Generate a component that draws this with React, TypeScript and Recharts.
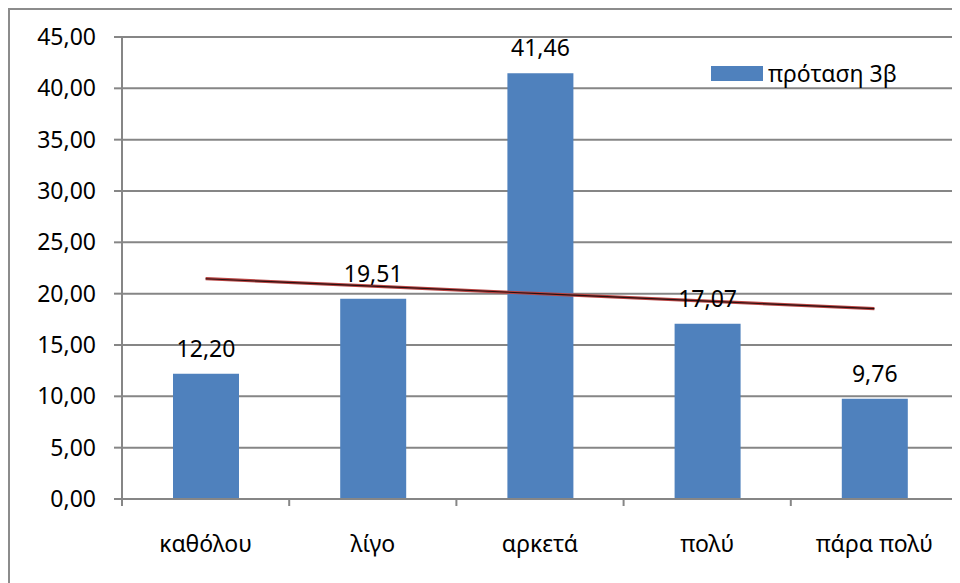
import React from 'react';
import { ComposedChart, Bar, Line, XAxis, YAxis, CartesianGrid, Legend, LabelList } from 'recharts';

const categories = ['καθόλου', 'λίγο', 'αρκετά', 'πολύ', 'πάρα πολύ'];
const values = [12.2, 19.51, 41.46, 17.07, 9.76];
const trend = [21.46, 20.73, 20.0, 19.27, 18.54];
const yTicks = [0, 5, 10, 15, 20, 25, 30, 35, 40, 45];
const seriesName = 'πρόταση 3β';

const data = categories.map((c, i) => ({ name: c, value: values[i], trend: trend[i] }));

const FONT = '"Noto Sans", "DejaVu Sans", sans-serif';
const GRID = '#868686';
const BAR = '#4F81BD';

const fmt = (v: number) => v.toFixed(2).replace('.', ',');

const CatTick = (props: any) => {
  const { x, y, payload, index, visibleTicksCount } = props;
  const w = typeof props.width === 'number' ? props.width : 836;
  const n = visibleTicksCount || categories.length;
  const step = w / n;
  const left = x - step / 2;
  const right = x + step / 2;
  return (
    <g>
      <line x1={left} x2={left} y1={y} y2={y + 7} stroke={GRID} strokeWidth={2} />
      {index === n - 1 && <line x1={right} x2={right} y1={y} y2={y + 7} stroke={GRID} strokeWidth={2} />}
      <text x={x} y={y + 53} textAnchor="middle" fontSize={23} fontFamily={FONT} fill="#000">
        {payload.value}
      </text>
    </g>
  );
};

const LegendContent = () => (
  <div style={{ display: 'flex', alignItems: 'center', fontFamily: FONT, fontSize: 23 }}>
    <div style={{ width: 52, height: 15, background: BAR, marginRight: 5 }} />
    <span style={{ color: '#000' }}>{seriesName}</span>
  </div>
);

export default function App() {
  return (
    <div style={{ position: 'relative', width: 952, height: 575, overflow: 'visible' }}>
      <ComposedChart
        width={952}
        height={575}
        data={data}
        margin={{ top: 29, right: 2, bottom: 24, left: 0 }}
        style={{ fontFamily: FONT }}
      >
        <CartesianGrid vertical={false} stroke={GRID} strokeWidth={2} />
        <XAxis
          dataKey="name"
          height={60}
          axisLine={{ stroke: GRID, strokeWidth: 2 }}
          tickLine={false}
          tickSize={0}
          tickMargin={0}
          tick={<CatTick />}
          interval={0}
        />
        <YAxis
          width={114}
          domain={[0, 45]}
          ticks={yTicks}
          interval={0}
          tickFormatter={fmt}
          axisLine={{ stroke: GRID, strokeWidth: 2 }}
          tickLine={{ stroke: GRID, strokeWidth: 2 }}
          tickSize={8}
          tickMargin={18}
          tick={{ fontSize: 23, fill: '#000', fontFamily: FONT }}
        />
        <Legend
          layout="horizontal"
          verticalAlign="middle"
          align="center"
          content={<LegendContent />}
          wrapperStyle={{ position: 'absolute', top: 49, left: 703, width: 240 }}
        />
        <Bar dataKey="value" name={seriesName} fill={BAR} barSize={66} isAnimationActive={false}>
          <LabelList
            dataKey="value"
            position="top"
            offset={17}
            formatter={(v: any) => fmt(Number(v))}
            style={{ fontSize: 23, fill: '#000', fontFamily: FONT }}
          />
        </Bar>
        <Line dataKey="trend" stroke="#B84442" strokeWidth={3.2} dot={false} legendType="none" isAnimationActive={false} />
        <Line dataKey="trend" stroke="#2a1010" strokeWidth={1.1} dot={false} legendType="none" isAnimationActive={false} />
      </ComposedChart>
      <div
        style={{
          position: 'absolute',
          left: 0,
          top: 0,
          width: 1000,
          height: 1000,
          borderLeft: '2px solid #8c8c8c',
          borderTop: '2px solid #8c8c8c',
          pointerEvents: 'none',
        }}
      />
    </div>
  );
}
